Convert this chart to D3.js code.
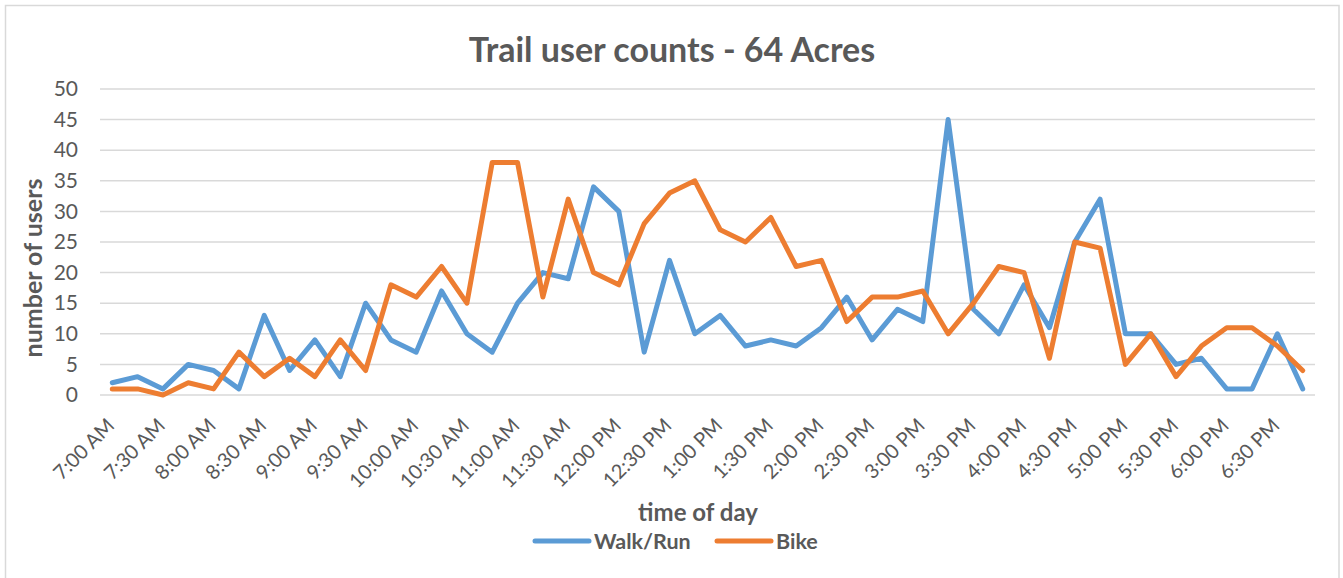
<!DOCTYPE html>
<html>
<head>
<meta charset="utf-8">
<script src="https://cdn.jsdelivr.net/npm/d3@7"></script>
<style>
body { margin: 0; background: #fff; }
svg { display: block; font-family: Lato, "Open Sans", sans-serif; }
</style>
</head>
<body>
<svg width="1343" height="578"></svg>
<script>
// 15 minute slots, 7:00 AM .. 6:45 PM
var times = ["7:00 AM","7:15 AM","7:30 AM","7:45 AM","8:00 AM","8:15 AM","8:30 AM","8:45 AM",
  "9:00 AM","9:15 AM","9:30 AM","9:45 AM","10:00 AM","10:15 AM","10:30 AM","10:45 AM",
  "11:00 AM","11:15 AM","11:30 AM","11:45 AM","12:00 PM","12:15 PM","12:30 PM","12:45 PM",
  "1:00 PM","1:15 PM","1:30 PM","1:45 PM","2:00 PM","2:15 PM","2:30 PM","2:45 PM",
  "3:00 PM","3:15 PM","3:30 PM","3:45 PM","4:00 PM","4:15 PM","4:30 PM","4:45 PM",
  "5:00 PM","5:15 PM","5:30 PM","5:45 PM","6:00 PM","6:15 PM","6:30 PM","6:45 PM"];
var walkRun = [2,3,1,5,4,1,13,4,9,3,15,9,7,17,10,7,15,20,19,34,30,7,22,10,
  13,8,9,8,11,16,9,14,12,45,14,10,18,11,25,32,10,10,5,6,1,1,10,1];
var bike = [1,1,0,2,1,7,3,6,3,9,4,18,16,21,15,38,38,16,32,20,18,28,33,35,
  27,25,29,21,22,12,16,16,17,10,15,21,20,6,25,24,5,10,3,8,11,11,8,4];
var yTicks = [0,5,10,15,20,25,30,35,40,45,50];

var svg = d3.select("svg");
var textColor = "#595959";

// chart area border
svg.append("rect").attr("x", 5.5).attr("y", 5.5).attr("width", 1333.5).attr("height", 600)
  .attr("fill", "none").attr("stroke", "#d9d9d9").attr("stroke-width", 1.5);

var xScale = d3.scalePoint().domain(times).range([112.3, 1302.7]);
var yScale = d3.scaleLinear().domain([0, 50]).range([395, 89]);

// gridlines
svg.append("g").selectAll("line").data(yTicks).enter().append("line")
  .attr("x1", 100).attr("x2", 1315)
  .attr("y1", function(d){return yScale(d)}).attr("y2", function(d){return yScale(d)})
  .attr("stroke", "#d9d9d9").attr("stroke-width", 1.5);

// y axis labels
var yAxis = d3.axisLeft(yScale).tickValues(yTicks).tickSize(0).tickPadding(0);
var yG = svg.append("g").attr("transform", "translate(78,0)").call(yAxis);
yG.select(".domain").remove();
yG.selectAll("text").attr("fill", textColor).style("font-size", "21px").style("font-family", "Lato, sans-serif");

// x axis labels every 30 minutes
var xLabels = times.filter(function(d, i){return i % 2 == 0});
var xAxis = d3.axisBottom(xScale).tickValues(xLabels).tickSize(0).tickPadding(0);
var xG = svg.append("g").attr("transform", "translate(0,395)").call(xAxis);
xG.select(".domain").remove();
xG.selectAll("text")
  .attr("fill", textColor).style("font-size", "20px").style("font-family", "Lato, sans-serif")
  .attr("text-anchor", "end").attr("dy", "0.35em").attr("y", 0)
  .attr("transform", "translate(-2,27) rotate(-45)");

// lines
var line = d3.line()
  .x(function(d, i){return xScale(times[i])})
  .y(function(d){return yScale(d)});

svg.append("path").datum(walkRun).attr("d", line)
  .attr("fill", "none").attr("stroke", "#5b9bd5").attr("stroke-width", 5).attr("stroke-linejoin", "round").attr("stroke-linecap", "round");
svg.append("path").datum(bike).attr("d", line)
  .attr("fill", "none").attr("stroke", "#ed7d31").attr("stroke-width", 5).attr("stroke-linejoin", "round").attr("stroke-linecap", "round");

// title
svg.append("text").attr("x", 672).attr("y", 62).attr("text-anchor", "middle")
  .attr("fill", textColor).style("font-size", "34px").style("font-weight", "bold")
  .text("Trail user counts - 64 Acres");

// axis titles
svg.append("text").attr("transform", "translate(42,268) rotate(-90)").attr("text-anchor", "middle")
  .attr("fill", textColor).style("font-size", "25px").style("font-weight", "bold")
  .text("number of users");
svg.append("text").attr("x", 698).attr("y", 521).attr("text-anchor", "middle")
  .attr("fill", textColor).style("font-size", "24px").style("font-weight", "bold")
  .text("time of day");

// legend
var legend = [{name: "Walk/Run", color: "#5b9bd5", x: 535}, {name: "Bike", color: "#ed7d31", x: 717}];
var lg = svg.append("g").selectAll("g").data(legend).enter().append("g")
  .attr("transform", function(d){return "translate(" + d.x + ",541)"});
lg.append("line").attr("x1", 0).attr("x2", 54).attr("stroke", function(d){return d.color})
  .attr("stroke-width", 5).attr("stroke-linecap", "round");
lg.append("text").attr("x", 59).attr("y", 8).attr("fill", textColor)
  .style("font-size", "21.5px").style("font-weight", "bold").text(function(d){return d.name});
</script>
</body>
</html>
